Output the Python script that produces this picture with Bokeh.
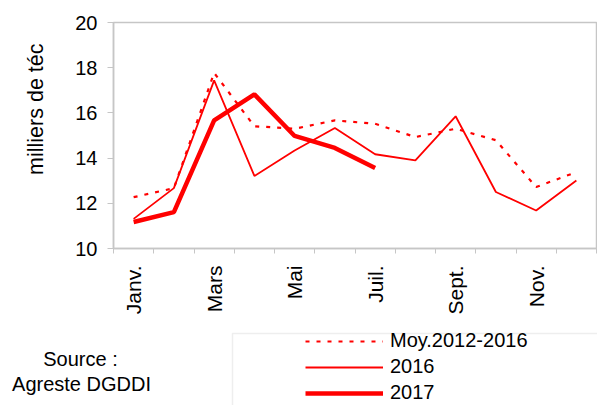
import math
from bokeh.plotting import figure
from bokeh.layouts import column, row
from bokeh.models import (FixedTicker, Legend, LegendItem, Title, Label, BoxAnnotation,
                          Range1d, ColumnDataSource)
from bokeh.embed import file_html
from bokeh.resources import INLINE

# ---- data ----
months = ["Janv.", "Févr.", "Mars", "Avril", "Mai", "Juin",
          "Juil.", "Août", "Sept.", "Oct.", "Nov.", "Déc."]
moy_2012_2016 = [12.27, 12.67, 17.77, 15.41, 15.30, 15.67,
                 15.52, 14.93, 15.30, 14.79, 12.72, 13.38]
serie_2016 = [11.31, 12.67, 17.44, 13.21, 14.34, 15.33,
              14.17, 13.90, 15.85, 12.50, 11.68, 13.01]
serie_2017 = [11.17, 11.61, 15.67, 16.82, 14.98, 14.45, 13.56]
y_ticks = [10, 12, 14, 16, 18, 20]
series_names = ["Moy.2012-2016", "2016", "2017"]
y_label = "milliers de téc"
source_lines = ["Source :", "Agreste DGDDI"]

pos = [i + 1 for i in range(len(months))]
FONT = "Liberation Sans"
GREY = "#c6c6c6"
RED = "#ff0000"
styles = [dict(line_width=2.2, line_dash="4 7"), dict(line_width=1.8), dict(line_width=4.5)]

src_moy = ColumnDataSource(dict(x=pos, y=moy_2012_2016))
src_16 = ColumnDataSource(dict(x=pos, y=serie_2016))
src_17 = ColumnDataSource(dict(x=pos[:len(serie_2017)], y=serie_2017))
sources = [src_moy, src_16, src_17]

# ---- main chart ----
p = figure(width=597, height=330, output_backend="svg", toolbar_location=None,
           x_range=Range1d(0.5, len(months) + 0.5), y_range=Range1d(y_ticks[0], y_ticks[-1]),
           min_border_left=113, min_border_right=1, min_border_top=22,
           min_border_bottom=82)
p.xgrid.visible = False
p.ygrid.visible = False
p.outline_line_color = GREY
p.outline_line_width = 1.5

for src, st in zip(sources, styles):
    p.line("x", "y", source=src, color=RED, **st)

xa = p.xaxis[0]
xa.ticker = FixedTicker(ticks=pos[::2], minor_ticks=[x - 0.5 for x in pos] + [pos[-1] + 0.5])
xa.major_label_overrides = {pos[i]: months[i] for i in range(0, len(months), 2)}
xa.major_tick_out = 0
xa.major_tick_in = 0
xa.minor_tick_out = 5
xa.minor_tick_in = 0
xa.minor_tick_line_color = GREY
xa.axis_line_color = GREY
xa.axis_line_width = 1.5
xa.major_label_orientation = math.pi / 2
xa.major_label_standoff = 12
xa.major_label_text_font = FONT
xa.major_label_text_font_size = "21px"
xa.major_label_text_color = "black"

ya = p.yaxis[0]
ya.ticker = FixedTicker(ticks=y_ticks)
ya.major_tick_out = 6
ya.major_tick_in = 0
ya.minor_tick_out = 0
ya.minor_tick_in = 0
ya.major_tick_line_color = GREY
ya.axis_line_color = GREY
ya.axis_line_width = 1.5
ya.major_label_standoff = 10
ya.major_label_text_font = FONT
ya.major_label_text_font_size = "20px"
ya.major_label_text_color = "black"

p.add_layout(Title(text=y_label, align="right", offset=21, vertical_align="top",
                   standoff=46, text_font=FONT, text_font_size="21.5px",
                   text_font_style="normal", text_color="black"), "left")

# ---- bottom strip: source + legend ----
p2 = figure(width=597, height=75, output_backend="svg", toolbar_location=None,
            x_range=Range1d(0, 1), y_range=Range1d(0, 1),
            min_border_left=0, min_border_right=0, min_border_top=0, min_border_bottom=0,
            x_axis_type=None, y_axis_type=None)
p2.xgrid.visible = False
p2.ygrid.visible = False
p2.outline_line_color = None

# legend renderers: same series, outside this strip's ranges (so only the legend shows)
proxies = [p2.line("x", "y", source=src, color=RED, **st) for src, st in zip(sources, styles)]

p2.add_layout(Label(x=80, y=47, x_units="screen", y_units="screen", text=source_lines[0],
                    text_align="center", text_baseline="middle", text_font=FONT,
                    text_font_size="20px", text_color="black"))
p2.add_layout(Label(x=81, y=22, x_units="screen", y_units="screen", text=source_lines[1],
                    text_align="center", text_baseline="middle", text_font=FONT,
                    text_font_size="20px", text_color="black"))

p2.add_layout(BoxAnnotation(left=232, right=700, top=72, bottom=-20,
                            left_units="screen", right_units="screen",
                            top_units="screen", bottom_units="screen",
                            fill_alpha=0, line_color=GREY, line_width=1.5))

legend = Legend(items=[LegendItem(label=n, renderers=[r]) for n, r in zip(series_names, proxies)],
                location=(305, 1), padding=0, spacing=3, margin=0,
                border_line_alpha=0, background_fill_alpha=0,
                glyph_width=78, glyph_height=22, label_height=22,
                label_standoff=7, label_text_font=FONT,
                label_text_font_size="20px", label_text_color="black")
p2.add_layout(legend)

layout = column(p, row(p2, spacing=0), spacing=0)
open("out.html", "w").write(file_html(layout, INLINE))
